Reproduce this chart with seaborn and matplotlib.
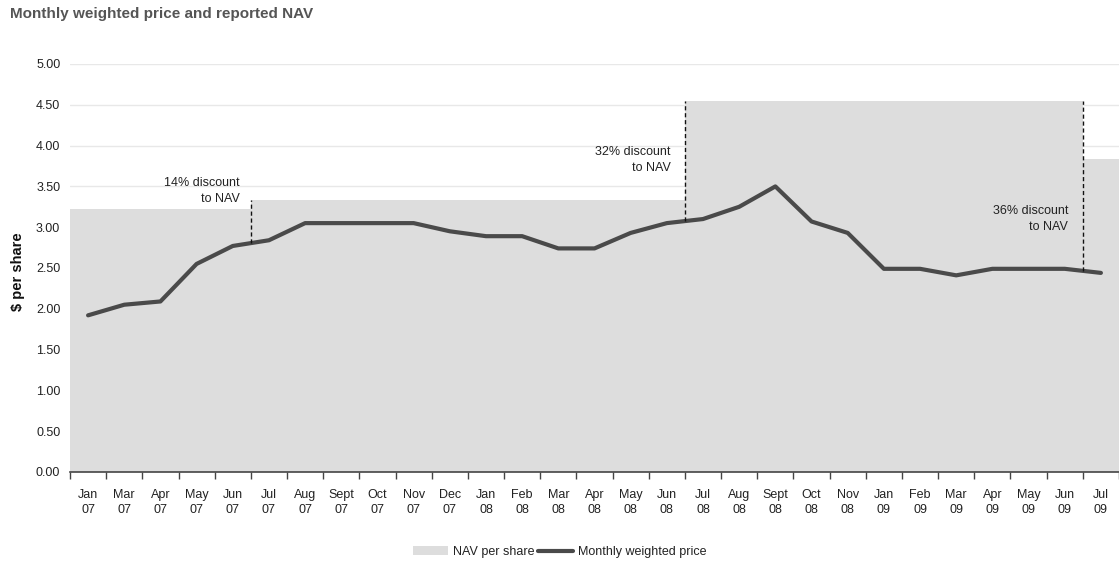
import numpy as np
import pandas as pd
import matplotlib
matplotlib.use("Agg")
import matplotlib.pyplot as plt
from matplotlib.patches import Patch
from matplotlib.lines import Line2D
import seaborn as sns

# Monthly series
months = ["Jan\n07", "Mar\n07", "Apr\n07", "May\n07", "Jun\n07", "Jul\n07", "Aug\n07",
          "Sept\n07", "Oct\n07", "Nov\n07", "Dec\n07", "Jan\n08", "Feb\n08", "Mar\n08",
          "Apr\n08", "May\n08", "Jun\n08", "Jul\n08", "Aug\n08", "Sept\n08", "Oct\n08",
          "Nov\n08", "Jan\n09", "Feb\n09", "Mar\n09", "Apr\n09", "May\n09", "Jun\n09",
          "Jul\n09"]
nav_per_share = [3.22] * 5 + [3.33] * 12 + [4.55] * 11 + [3.84]
weighted_price = [1.92, 2.05, 2.09, 2.55, 2.77, 2.84, 3.05, 3.05, 3.05, 3.05, 2.95,
                  2.89, 2.89, 2.74, 2.74, 2.93, 3.05, 3.10, 3.25, 3.50, 3.07, 2.93,
                  2.49, 2.49, 2.41, 2.49, 2.49, 2.49, 2.44]

# Discount call-outs: (index of first month at the new NAV, label)
discounts = [(5, "14% discount\nto NAV"), (17, "32% discount\nto NAV"), (28, "36% discount\nto NAV")]
label_pos = [(4.2, 3.44), (16.1, 3.82), (27.1, 3.10)]

df = pd.DataFrame({"month": months, "nav": nav_per_share, "price": weighted_price})

sns.set_theme(style="white")
plt.rcParams["font.family"] = ["Liberation Sans", "DejaVu Sans"]

fig = plt.figure(figsize=(11.19, 5.66), dpi=100)
ax = fig.add_axes([70 / 1119, 1 - 472 / 566, 1 - 70 / 1119, (472 - 64) / 566])

nav_color = "#dddddd"
line_color = "#4a4a4a"
fs = 9

ax.set_ylim(0, 5)
ax.set_yticks(np.arange(0, 5.01, 0.5))
ax.yaxis.grid(True, color="#e8e8e8", linewidth=1)
ax.set_axisbelow(True)

sns.barplot(data=df, x="month", y="nav", color=nav_color, width=1.0, saturation=1,
            edgecolor="none", linewidth=0, ax=ax, zorder=1)
x = np.arange(len(months))
sns.lineplot(x=x, y=df["price"].values, color=line_color, linewidth=3, ax=ax,
             zorder=3, solid_capstyle="round")

ax.set_xlim(-0.5, len(months) - 0.5)

# Dashed markers at each NAV change, from the price line up to the higher NAV
for (i, text), (tx, ty) in zip(discounts, label_pos):
    bx = i - 0.5
    p = np.interp(bx, x, weighted_price)
    top = max(nav_per_share[i - 1], nav_per_share[i])
    ax.plot([bx, bx], [p, top], color="#111111", linestyle=(0, (3, 2)),
            linewidth=1, zorder=4)
    ax.text(tx, ty, text, ha="right", va="center", fontsize=fs,
            color="#222222", linespacing=1.45, zorder=5)

# Axes styling
for s in ["top", "right", "left"]:
    ax.spines[s].set_visible(False)
ax.spines["bottom"].set_color("#444444")
ax.spines["bottom"].set_linewidth(1.2)
ax.spines["bottom"].set_zorder(6)

ax.set_xticks(x)
ax.set_xticklabels(months, fontsize=fs, color="#222222", linespacing=1.35)
ax.set_xticks(np.arange(-0.5, len(months)), minor=True)
ax.tick_params(axis="x", which="major", length=0, pad=12)
ax.tick_params(axis="x", which="minor", length=5, width=1, color="#444444",
               direction="out", bottom=True)
ax.set_yticklabels([f"{v:.2f}" for v in np.arange(0, 5.01, 0.5)], fontsize=fs,
                   color="#222222")
ax.tick_params(axis="y", length=0, pad=7)

ax.set_xlabel("")
ax.set_ylabel("$ per share", fontsize=10.5, fontweight="bold", color="#111111")
ax.yaxis.set_label_coords(-0.043, 0.49)

fig.text(10 / 1119, 1 - 14 / 566, "Monthly weighted price and reported NAV",
         fontsize=11, fontweight="bold", color="#555555", ha="left", va="center")

handles = [Patch(facecolor=nav_color, edgecolor="none"),
           Line2D([0], [0], color=line_color, linewidth=3)]
fig.legend(handles, ["NAV per share", "Monthly weighted price"], loc="center",
           bbox_to_anchor=(0.5, 1 - 552 / 566), ncol=2, frameon=False, fontsize=fs,
           handlelength=2.8, handletextpad=0.4, columnspacing=0.3,
           labelcolor="#222222")

fig.savefig("out.png", dpi=100)
